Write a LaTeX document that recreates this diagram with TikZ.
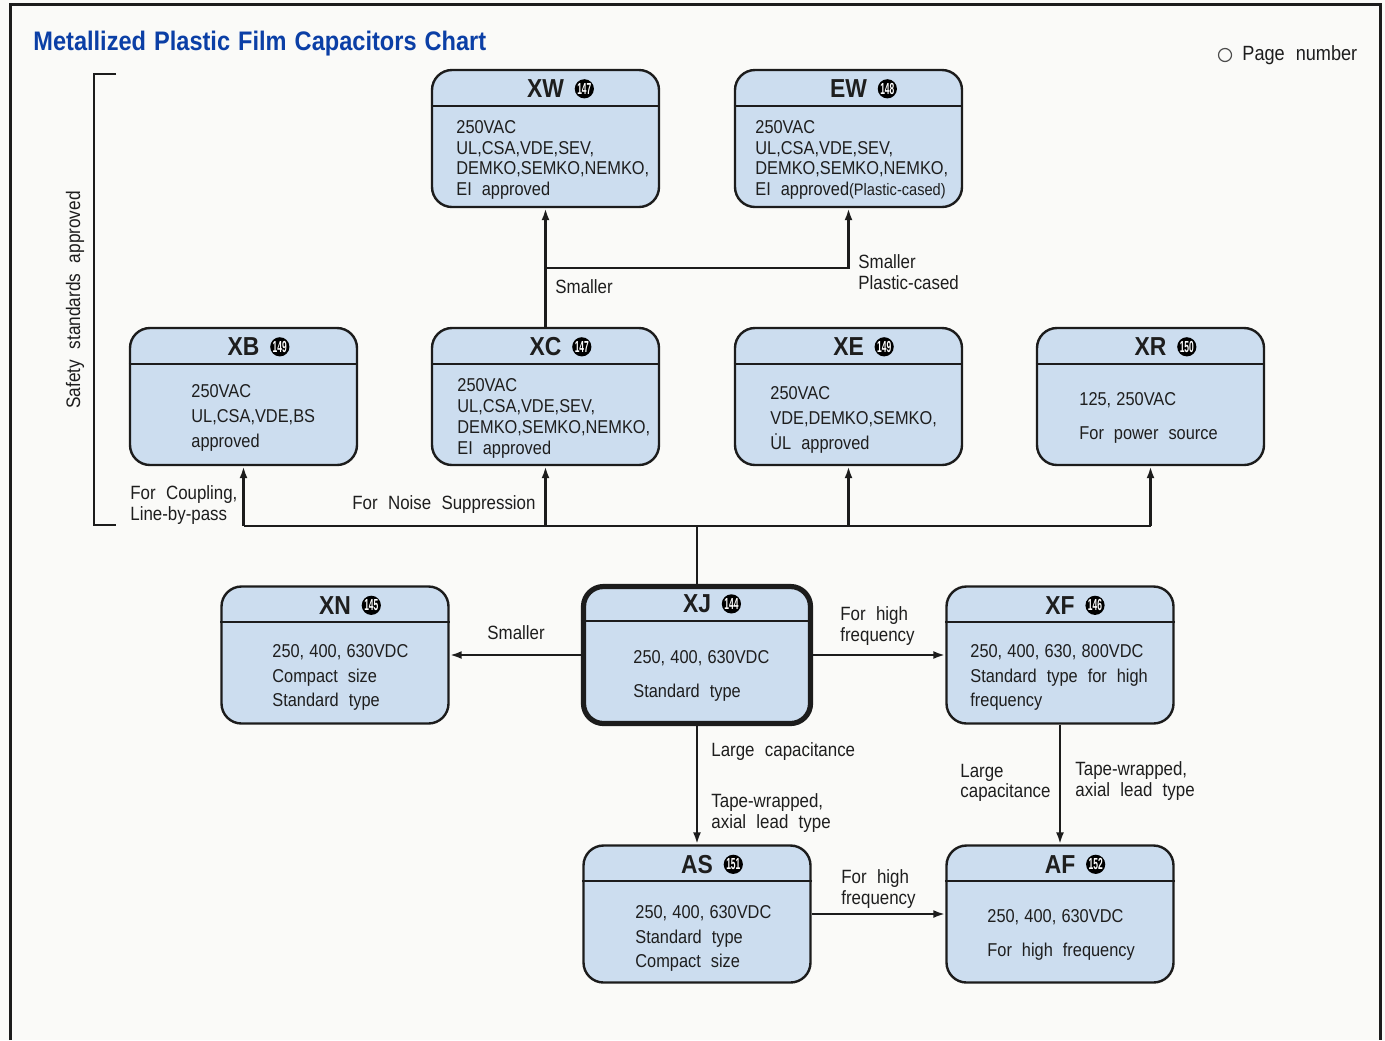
\documentclass[tikz,border=0pt]{standalone}
\usepackage{fontspec}
\usepackage{graphicx}
\setmainfont{Liberation Sans}[FakeStretch=0.88, WordSpace=2.2]
\usetikzlibrary{arrows.meta,calc}

\definecolor{boxc}{HTML}{CCDDEF}
\definecolor{linec}{HTML}{1C1C1C}
\definecolor{txtc}{HTML}{1E1E1E}
\definecolor{titlec}{HTML}{0B3FA6}
\definecolor{pagec}{HTML}{FAFAF8}

% condensed digits inside the page-number discs
\newcommand\pg[1]{\scalebox{0.6}[1]{#1}}
% narrow gap after commas in voltage lists
\newcommand\cs{\hspace{0.28em}}

\tikzset{
  cbox/.style={draw=linec, line width=1.2pt, fill=boxc, rounded corners=10pt,
    minimum width=113.5pt, minimum height=68.5pt, inner sep=0pt},
  divider/.style={draw=linec, line width=1pt},
  model/.style={font=\bfseries\fontsize{13}{13}\selectfont, text=txtc, inner sep=0pt},
  pnum/.style={circle, fill=black, text=white, minimum size=9.6pt, inner sep=0pt,
    font=\bfseries\fontsize{8}{8}\selectfont},
  body/.style={text=txtc, inner sep=0pt, align=left, anchor=west,
    font=\fontsize{9.3}{#1}\selectfont},
  body/.default=10.5,
  lab/.style={text=txtc, inner sep=0pt, align=left, anchor=west,
    font=\fontsize{9.6}{#1}\selectfont},
  lab/.default=10.5,
  conn/.style={draw=linec, line width=1.25pt},
  arr/.style={conn, -{Latex[length=6pt,width=4pt]}},
}

% #1 extra style, #2 name, #3 centre x, #4 centre y, #5 model, #6 page
\newcommand\capbox[6][]{%
  \node[cbox,#1] (#2) at (#3,#4) {};
  \draw[divider] ($(#2.north west)+(0,37)$) -- ($(#2.north east)+(0,37)$);
  \node[model] (#2-t) at ($(#2.north)+(0,20)$) {#5};
  \node[pnum, anchor=west] (#2-p) at ($(#2-t.east)+(10,0)$) {\pg{#6}};
}

\begin{document}
\begin{tikzpicture}[x=0.5pt, y=-0.5pt]
  \fill[pagec] (0,0) rectangle (1385,1040);
  \useasboundingbox (0,0) rectangle (1385,1040);

  % page frame
  \draw[linec, line width=1.5pt] (10,1040) -- (10,4) -- (1380,4) -- (1380,1040);

  % heading and key
  \node[anchor=base west, text=titlec, inner sep=0pt,
        font=\bfseries\fontsize{13.4}{14}\selectfont] (title) at (33,50)
        {\spaceskip=0.3em\relax Metallized Plastic Film Capacitors Chart};
  \node[circle, draw=txtc!80, line width=0.6pt, minimum size=6.5pt, inner sep=0pt] (pgsym) at (1225,55) {};
  \node[lab, font=\fontsize{10.3}{12}\selectfont] (pgtxt) at (1242,55) {Page number};

  % bracket for the safety-approved group
  \draw[conn] (116,74) -- (94,74) -- (94,525) -- (116,525);
  \node[text=txtc, inner sep=0pt, rotate=90, font=\fontsize{9.8}{12}\selectfont] (safety) at (75,300)
        {Safety standards approved};

  % product boxes
  \capbox{xw}{545.5}{138.5}{XW}{147}
  \capbox{ew}{848.5}{138.5}{EW}{148}
  \capbox{xb}{243.5}{396.5}{XB}{149}
  \capbox{xc}{545.5}{396.5}{XC}{147}
  \capbox{xe}{848.5}{396.5}{XE}{149}
  \capbox{xr}{1150.5}{396.5}{XR}{150}
  \capbox{xn}{335}{655}{XN}{145}
  \capbox[line width=2.6pt]{xj}{697}{655}{XJ}{144}
  \capbox{xf}{1060}{655}{XF}{146}
  \capbox{as}{697}{914}{AS}{151}
  \capbox{af}{1060}{914}{AF}{152}

  % box contents
  \node[body=10.35] (xw-b) at (456,160) {250VAC\\UL,CSA,VDE,SEV,\\DEMKO,SEMKO,NEMKO,\\EI approved};
  \node[body=10.35] (ew-b) at (755,160) {250VAC\\UL,CSA,VDE,SEV,\\DEMKO,SEMKO,NEMKO,\\EI approved{\fontsize{8.3}{9}\selectfont(Plastic-cased)}};
  \node[body=12.5] (xb-b) at (191,418) {250VAC\\UL,CSA,VDE,BS\\approved};
  \node[body=10.5] (xc-b) at (457,418.5) {250VAC\\UL,CSA,VDE,SEV,\\DEMKO,SEMKO,NEMKO,\\EI approved};
  \node[body=12.5] (xe-b) at (770,420) {250VAC\\VDE,DEMKO,SEMKO,\\\.{U}L approved};
  \node[body=17] (xr-b) at (1079,418) {125,\cs250VAC\\For power source};
  \node[body=12.25] (xn-b) at (272,677.5) {250,\cs400,\cs630VDC\\Compact size\\Standard type};
  \node[body=17] (xj-b) at (633,676) {250,\cs400,\cs630VDC\\Standard type};
  \node[body=12.25] (xf-b) at (970,677.5) {250,\cs400,\cs630,\cs800VDC\\Standard type for high\\frequency};
  \node[body=12.25] (as-b) at (635,938.5) {250,\cs400,\cs630VDC\\Standard type\\Compact size};
  \node[body=17] (af-b) at (987,935) {250,\cs400,\cs630VDC\\For high frequency};

  % connectors
  \coordinate (bus) at (0,526);
  \coordinate (split) at (0,268);
  \draw[conn] (xj.north) -- (xj.north |- bus);
  \draw[conn] (xb.south |- bus) -- (xr.south |- bus);
  \draw[arr] (xb.south |- bus) -- (xb.south);
  \draw[arr] (xc.south |- bus) -- (xc.south);
  \draw[arr] (xe.south |- bus) -- (xe.south);
  \draw[arr] (xr.south |- bus) -- (xr.south);
  \draw[arr] (xc.north) -- (xw.south);
  \draw[arr] (xc.north |- split) -| (ew.south);
  \draw[arr] (xj.west) -- (xn.east);
  \draw[arr] (xj.east) -- (xf.west);
  \draw[arr] (xj.south) -- (as.north);
  \draw[arr] (xf.south) -- (af.north);
  \draw[arr] (as.east) -- (af.west);

  % connector labels
  \node[lab] (l-small1) at (555,287) {Smaller};
  \node[lab] (l-small2) at (858,272) {Smaller\\Plastic-cased};
  \node[lab] (l-coupl) at (130,505) {For Coupling,\\Line-by-pass};
  \node[lab] (l-noise) at (352,505) {For Noise Suppression};
  \node[lab] (l-small3) at (487,633) {Smaller};
  \node[lab] (l-hf1) at (840,626) {For high\\frequency};
  \node[lab] (l-large1) at (711,752) {Large capacitance};
  \node[lab] (l-tape1) at (711,813) {Tape-wrapped,\\axial lead type};
  \node[lab=9.8] (l-large2) at (960,783) {Large\\capacitance};
  \node[lab] (l-tape2) at (1075,781) {Tape-wrapped,\\axial lead type};
  \node[lab] (l-hf2) at (841,889) {For high\\frequency};
\end{tikzpicture}
\end{document}
